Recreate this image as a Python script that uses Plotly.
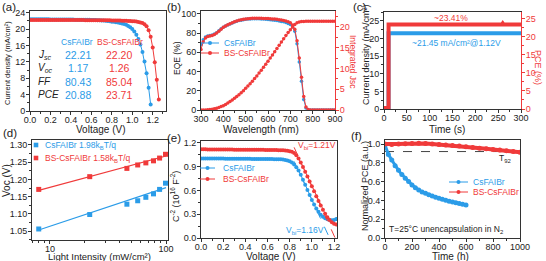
import numpy as np
import plotly.graph_objects as go

# ======================= DATA =======================
# (a) J-V curves
a_v_cs = np.round(np.arange(0, 1.1801, 0.02), 2)
a_j_cs = [22.40, 22.40, 22.39, 22.39, 22.38, 22.38, 22.37, 22.37, 22.36, 22.36,
          22.35, 22.35, 22.34, 22.34, 22.33, 22.33, 22.32, 22.32, 22.31, 22.31,
          22.30, 22.30, 22.29, 22.29, 22.28, 22.28, 22.27, 22.26, 22.25, 22.24,
          22.23, 22.21, 22.19, 22.17, 22.14, 22.11, 22.07, 22.02, 21.96, 21.89,
          21.80, 21.75, 21.68, 21.60, 21.50, 21.38, 21.22, 21.02, 20.76, 20.42,
          19.98, 19.40, 18.62, 17.58, 16.20, 14.40, 12.10, 9.20, 5.70, 1.60]
a_v_bs = np.round(np.arange(0, 1.2601, 0.02), 2)
a_j_bs = [22.22, 22.22, 22.22, 22.22, 22.22, 22.21, 22.21, 22.21, 22.21, 22.21,
          22.21, 22.20, 22.20, 22.20, 22.20, 22.20, 22.20, 22.20, 22.19, 22.19,
          22.19, 22.19, 22.19, 22.18, 22.18, 22.18, 22.18, 22.17, 22.17, 22.17,
          22.16, 22.16, 22.16, 22.15, 22.15, 22.14, 22.14, 22.13, 22.13, 22.12,
          22.11, 22.10, 22.09, 22.08, 22.07, 22.05,
          22.03, 22.01, 21.99, 21.96, 21.92, 21.87, 21.81, 21.74, 21.62, 21.45,
          21.15, 20.65, 19.70, 18.10, 15.50, 11.90, 7.60, 2.80]
a_rows = ["J<sub>sc</sub>", "V<sub>oc</sub>", "FF", "PCE"]
a_vals_cs = ["22.21", "1.17", "80.43", "20.88"]
a_vals_bs = ["22.20", "1.26", "85.04", "23.71"]

# (b) EQE and integrated Jsc
b_wl = np.arange(300, 901, 10)
b_eqe_cs = [68.0, 73.0, 76.0, 77.0, 77.5, 78.0, 79.0, 80.5, 82.5, 84.5,
            86.0, 87.5, 88.5, 89.5, 90.5, 91.5, 92.3, 93.0, 93.5, 94.0,
            94.3, 94.6, 94.8, 95.0, 95.0, 95.0, 94.9, 94.8, 94.6, 94.4,
            94.2, 94.0, 93.7, 93.4, 93.0, 92.6, 92.2, 91.7, 91.0, 90.0,
            89.0, 86.5, 82.0, 69.0, 50.0, 30.0, 11.0, 2.0, 0.3, 0.0,
            0.0, 0.0, 0.0, 0.0, 0.0, 0.0, 0.0, 0.0, 0.0, 0.0, 0.0]
b_eqe_bs = [63.0, 71.0, 75.0, 76.5, 77.0, 77.5, 78.5, 80.0, 82.0, 84.0,
            86.0, 87.5, 88.7, 89.8, 90.8, 91.8, 92.6, 93.3, 93.8, 94.3,
            94.7, 95.0, 95.2, 95.4, 95.5, 95.5, 95.5, 95.4, 95.3, 95.2,
            95.1, 95.0, 94.8, 94.6, 94.3, 94.0, 93.6, 93.2, 92.6, 91.8,
            90.8, 88.5, 84.0, 72.0, 54.0, 34.0, 14.0, 3.0, 0.5, 0.1,
            0.0, 0.0, 0.0, 0.0, 0.0, 0.0, 0.0, 0.0, 0.0, 0.0, 0.0]
b_jint_bs = [0.00, 0.00, 0.02, 0.05, 0.10, 0.18, 0.30, 0.45, 0.62, 0.82,
             1.05, 1.35, 1.68, 2.03, 2.40, 2.80, 3.22, 3.66, 4.12, 4.60,
             5.20, 5.75, 6.32, 6.92, 7.55, 8.20, 8.87, 9.56, 10.27, 11.00,
             11.74, 12.49, 13.25, 14.02, 14.80, 15.58, 16.36, 17.13, 17.89, 18.62,
             19.32, 19.98, 20.55, 20.95, 21.17, 21.27, 21.30, 21.31, 21.31, 21.31,
             21.31, 21.31, 21.31, 21.31, 21.31, 21.31, 21.31, 21.31, 21.31, 21.31, 21.31]

# (c) steady-state output
c_t = [0, 5, 10, 10, 50, 100, 150, 200, 250, 258, 260, 262, 300]
c_j = [0.2, 0.2, 0.2, 21.45, 21.45, 21.40, 21.45, 21.45, 21.40, 21.45, 21.60, 21.45, 21.45]
c_pce = [0.3, 0.3, 0.3, 23.41, 23.42, 23.40, 23.41, 23.40, 23.42, 23.41, 23.75, 23.41, 23.40]

# (d) Voc vs light intensity
d_int = [8, 22, 46, 57, 67, 78, 88, 99]
d_voc_cs = [1.056, 1.098, 1.128, 1.138, 1.148, 1.158, 1.171, 1.189]
d_voc_bs = [1.171, 1.208, 1.232, 1.242, 1.248, 1.254, 1.262, 1.273]
d_fit_int = [8, 100]
d_fit_cs = [1.053, 1.176]
d_fit_bs = [1.168, 1.268]

# (e) Mott-Schottky
e_v = np.round(np.arange(0, 1.2201, 0.02), 2)
e_c_cs = [1.005, 1.005, 1.005, 1.004, 1.004, 1.004, 1.004, 1.003, 1.003, 1.003,
          1.003, 1.002, 1.002, 1.002, 1.002, 1.001, 1.001, 1.001, 1.001, 1.000,
          1.000, 1.000, 1.000, 0.999, 0.999, 0.999, 0.999, 0.998, 0.998, 0.998,
          0.998, 0.997, 0.997, 0.996, 0.996, 0.995,
          0.993, 0.990, 0.985, 0.978, 0.968, 0.952, 0.928, 0.895, 0.852, 0.800,
          0.737, 0.672, 0.607, 0.542, 0.480, 0.422, 0.372, 0.330, 0.295, 0.268,
          0.249, 0.236, 0.228, 0.224, 0.228, 0.240]
e_c_bs = [1.120, 1.120, 1.120, 1.119, 1.119, 1.119, 1.119, 1.118, 1.118, 1.118,
          1.118, 1.117, 1.117, 1.117, 1.117, 1.116, 1.116, 1.116, 1.116, 1.115,
          1.115, 1.115, 1.115, 1.114, 1.114, 1.114, 1.113, 1.113, 1.113, 1.112,
          1.112, 1.111, 1.111, 1.110, 1.110, 1.109, 1.108, 1.107,
          1.105, 1.102, 1.097, 1.088, 1.072, 1.045, 1.005, 0.955, 0.898, 0.838,
          0.776, 0.714, 0.652, 0.590, 0.528, 0.468, 0.410, 0.356, 0.306, 0.262,
          0.226, 0.198, 0.180, 0.170]
e_tan_cs_v = [0.84, 1.16]
e_tan_cs_c = [0.968, 0.0]
e_tan_bs_v = [0.84, 1.21]
e_tan_bs_c = [1.145, 0.0]

# (f) stability
f_t_cs = np.arange(0, 601, 25)
f_pce_cs = [0.99, 0.89, 0.83, 0.77, 0.72, 0.675, 0.635, 0.600, 0.565, 0.535,
            0.510, 0.490, 0.475, 0.460, 0.447, 0.435, 0.423, 0.412, 0.402, 0.392,
            0.383, 0.375, 0.367, 0.359, 0.351]
f_t_bs = np.arange(0, 1001, 50)
f_pce_bs = [1.000, 0.995, 1.000, 1.003, 1.006, 1.008, 1.005, 1.000, 0.995, 0.990,
            0.985, 0.978, 0.970, 0.963, 0.956, 0.950, 0.943, 0.936, 0.928, 0.920, 0.912]
f_t92 = 0.92

# ======================= STYLE =======================
W, H = 546, 261
BLUE = "#2b9ce8"
RED = "#f03a3a"
INK = "#222222"
FONT = "Arial, Liberation Sans, sans-serif"
TICK = 9


def X(px):
    return px / W


def Y(py):
    return 1 - py / H


def base_axis(rng, dtick, minor, anchor, fmt, mirror, standoff, **kw):
    d = dict(range=rng, dtick=dtick, anchor=anchor,
             showline=True, linecolor="#333", linewidth=1, mirror=mirror,
             ticks="outside", ticklen=3, tickcolor="#333", showgrid=False, zeroline=False,
             tickfont=dict(size=TICK, color=INK, family=FONT), automargin=False,
             ticklabelstandoff=standoff,
             minor=dict(ticks="outside", ticklen=2, tickcolor="#333", dtick=minor))
    if fmt:
        d["tickformat"] = fmt
    d.update(kw)
    return d


def xax(dom, rng, dtick, minor, anchor, fmt=None, **kw):
    d = base_axis(rng, dtick, minor, anchor, fmt, True, -3, **kw)
    d["domain"] = [X(dom[0]), X(dom[1])]
    return d


def yax(dom, rng, dtick, minor, anchor, fmt=None, mirror=True, **kw):
    d = base_axis(rng, dtick, minor, anchor, fmt, mirror, -1, **kw)
    d["domain"] = [Y(dom[1]), Y(dom[0])]
    return d


def right_axis(dom, rng, anchor, over):
    return dict(domain=[Y(dom[1]), Y(dom[0])], range=rng, dtick=5, anchor=anchor, overlaying=over,
                side="right", showline=True, linecolor=RED, linewidth=1, ticks="outside", ticklen=3,
                tickcolor=RED, showgrid=False, zeroline=False, automargin=False,
                ticklabelstandoff=-1,
                tickfont=dict(size=9, color=RED, family=FONT),
                minor=dict(ticks="outside", ticklen=2, tickcolor=RED, dtick=2.5))


fig = go.Figure()


def line_marker(x, y, color, xa, ya, size=4, width=1, symbol="circle", mode="lines+markers", dash=None):
    fig.add_trace(go.Scatter(
        x=x, y=y, mode=mode, xaxis=xa, yaxis=ya, showlegend=False,
        line=dict(color=color, width=width, dash=dash),
        marker=dict(color=color, size=size, symbol=symbol, line=dict(width=0))))


# (a)
line_marker(a_v_cs, a_j_cs, BLUE, "x", "y")
line_marker(a_v_bs, a_j_bs, RED, "x", "y")
# (b)
line_marker(b_wl, b_eqe_cs, BLUE, "x2", "y2", size=3.5)
line_marker(b_wl, b_eqe_bs, RED, "x2", "y2", size=3.5)
line_marker(b_wl, b_jint_bs, RED, "x2", "y3", size=3.5)
# (c)
line_marker(c_t, c_j, BLUE, "x3", "y4", mode="lines", width=4)
line_marker(c_t, c_pce, RED, "x3", "y5", mode="lines", width=4)
# (d)
line_marker(d_fit_int, d_fit_cs, BLUE, "x4", "y6", mode="lines", width=1.2)
line_marker(d_fit_int, d_fit_bs, RED, "x4", "y6", mode="lines", width=1.2)
line_marker(d_int, d_voc_cs, BLUE, "x4", "y6", mode="markers", size=5, symbol="square")
line_marker(d_int, d_voc_bs, RED, "x4", "y6", mode="markers", size=5, symbol="square")
# (e)
line_marker(e_v, e_c_cs, BLUE, "x5", "y7", size=4)
line_marker(e_v, e_c_bs, RED, "x5", "y7", size=4)
line_marker(e_tan_cs_v, e_tan_cs_c, BLUE, "x5", "y7", mode="lines", width=1, dash="dash")
line_marker(e_tan_bs_v, e_tan_bs_c, RED, "x5", "y7", mode="lines", width=1, dash="dash")
# (f)
fig.add_trace(go.Scatter(x=[0, 1000], y=[f_t92, f_t92], mode="lines", xaxis="x6", yaxis="y8",
                         showlegend=False, line=dict(color="#444", width=1, dash="dash")))
line_marker(f_t_cs, f_pce_cs, BLUE, "x6", "y8", size=5, width=3)
line_marker(f_t_bs, f_pce_bs, RED, "x6", "y8", size=5, width=4)

layout = dict(
    width=W, height=H, margin=dict(l=0, r=0, t=0, b=0),
    paper_bgcolor="white", plot_bgcolor="white", showlegend=False,
    font=dict(family=FONT, size=10, color=INK),
    xaxis=xax((30, 166), [0, 1.33], 0.2, 0.1, "y", fmt=".1f"),
    yaxis=yax((11, 111), [0, 24.4], 4, 2, "x"),
    xaxis2=xax((201, 335), [300, 900], 100, 50, "y2"),
    yaxis2=yax((11, 110), [0, 103], 20, 10, "x2", mirror=False),
    yaxis3=right_axis((11, 110), [0, 23.8], "x2", "y2"),
    xaxis3=xax((384, 521), [0, 300], 50, 25, "y4"),
    yaxis4=yax((12, 109), [0, 27.5], 5, 2.5, "x3", mirror=False),
    yaxis5=right_axis((12, 109), [0, 26.9], "x3", "y4"),
    xaxis4=xax((32, 168), [0.845, 2.017], None, None, "y6",
               type="log", tickvals=[10, 100], ticktext=["10", "100"]),
    yaxis6=yax((140, 240), [1.024, 1.3145], 0.05, 0.025, "x4", fmt=".2f"),
    xaxis5=xax((201, 337), [0, 1.227], 0.2, 0.1, "y7", fmt=".1f"),
    yaxis7=yax((141, 238), [0, 1.225], 0.3, 0.15, "x5", fmt=".1f"),
    xaxis6=xax((385, 520), [0, 1000], 200, 100, "y8"),
    yaxis8=yax((140, 238), [0, 1.043], 0.2, 0.1, "x6", fmt=".1f"),
)
layout["xaxis4"]["minor"] = dict(ticks="outside", ticklen=2, tickcolor="#333",
                                 tickvals=[7, 8, 9, 20, 30, 40, 50, 60, 70, 80, 90])
fig.update_layout(**layout)

ann = []


def txt(x, y, text, size=9, color=INK, anchor="center", angle=0, italic=False):
    ann.append(dict(x=X(x), y=Y(y), xref="paper", yref="paper", text=text, showarrow=False,
                    xanchor=anchor, yanchor="middle", textangle=angle,
                    font=dict(size=size, color=color, family=FONT,
                              style="italic" if italic else "normal")))


# axis titles
txt(100, 129, "Voltage (V)", size=10)
txt(7, 63, "Current density (mA/cm²)", size=7.5, angle=-90)
txt(261, 129, "Wavelength (nm)", size=10)
txt(177, 58, "EQE (%)", size=8.5, angle=-90)
txt(353, 62, "Integrated Jsc", size=8.5, color=RED, angle=90)
txt(447, 129, "Time (s)", size=10)
txt(366, 55, "Current density (mA/cm²)", size=9, angle=-90)
txt(538, 67, "PCE (%)", size=9, color=RED, angle=90)
txt(99, 256, "Light Intensity (mW/cm²)", size=9.5)
txt(6, 181, "Voc (V)", size=10, angle=-90)
txt(270, 256.5, "Voltage (V)", size=10)
txt(175, 197, "C<sup>-2</sup> (10<sup>16</sup> F<sup>-2</sup>)", size=9, angle=-90)
txt(450, 256.5, "Time (h)", size=10)
txt(365, 186, "Normalized PCE (a.u.)", size=9, angle=-90)

# panel labels
for lab, px, py in [("(a)", 9, 7), ("(b)", 174, 7), ("(c)", 360, 7),
                    ("(d)", 10, 133), ("(e)", 174, 138), ("(f)", 356, 136)]:
    txt(px, py, lab, size=11.5)

# (a) table
txt(77, 42, "CsFAIBr", size=8.5, color=BLUE)
txt(120, 42, "BS-CsFAIBr", size=8.5, color=RED)
for i, ry in enumerate([55, 68.3, 81.7, 95]):
    txt(36, ry, a_rows[i], size=10, anchor="left", italic=True)
    txt(78, ry, a_vals_cs[i], size=10.5, color=BLUE)
    txt(119, ry, a_vals_bs[i], size=10.5, color=RED)

# (c)
txt(451, 18, "~23.41%", size=8.5, color=RED)
txt(456, 43, "~21.45 mA/cm²@1.12V", size=8.5, color=BLUE)
# (e)
txt(317, 145, "V<sub>bi</sub>=1.21V", size=8.5, color=RED)
txt(305, 230, "V<sub>bi</sub>=1.16V", size=8.5, color=BLUE)
# (f)
txt(505, 158, "T<sub>92</sub>", size=8.5)
txt(387, 229, "T=25°C unencapsulation in N<sub>2</sub>", size=8.5, anchor="left")

# custom legends
shapes = []


def leg_line(x0, x1, y, color):
    shapes.append(dict(type="line", xref="paper", yref="paper", x0=X(x0), x1=X(x1), y0=Y(y), y1=Y(y),
                       line=dict(color=color, width=1)))
    cx = (x0 + x1) / 2
    shapes.append(dict(type="circle", xref="paper", yref="paper", x0=X(cx - 2), x1=X(cx + 2),
                       y0=Y(y + 2), y1=Y(y - 2), fillcolor=color, line=dict(width=0)))


def leg_square(cx, y, color):
    shapes.append(dict(type="rect", xref="paper", yref="paper", x0=X(cx - 2.3), x1=X(cx + 2.3),
                       y0=Y(y + 2.3), y1=Y(y - 2.3), fillcolor=color, line=dict(width=0)))


# (b)
leg_line(201, 219, 43, BLUE); txt(222, 43, "CsFAIBr", size=8.5, color=BLUE, anchor="left")
leg_line(201, 219, 53, RED); txt(222, 53, "BS-CsFAIBr", size=8.5, color=RED, anchor="left")
# (d)
leg_square(36, 145, BLUE); txt(43, 145, "CsFAIBr 1.98k<sub>B</sub>T/q", size=8.5, color=BLUE, anchor="left")
leg_square(36, 158, RED); txt(43, 158, "BS-CsFAIBr 1.58k<sub>B</sub>T/q", size=8.5, color=RED, anchor="left")
# (e)
leg_line(200, 215, 168, BLUE); txt(221, 168, "CsFAIBr", size=8.5, color=BLUE, anchor="left")
leg_line(200, 215, 179, RED); txt(221, 179, "BS-CsFAIBr", size=8.5, color=RED, anchor="left")
# (f)
leg_line(449, 468, 182, BLUE); txt(471, 182, "CsFAIBr", size=8.5, color=BLUE, anchor="left")
leg_line(449, 468, 192, RED); txt(471, 192, "BS-CsFAIBr", size=8.5, color=RED, anchor="left")

fig.update_layout(annotations=ann, shapes=shapes)
fig.write_html("out.html")
